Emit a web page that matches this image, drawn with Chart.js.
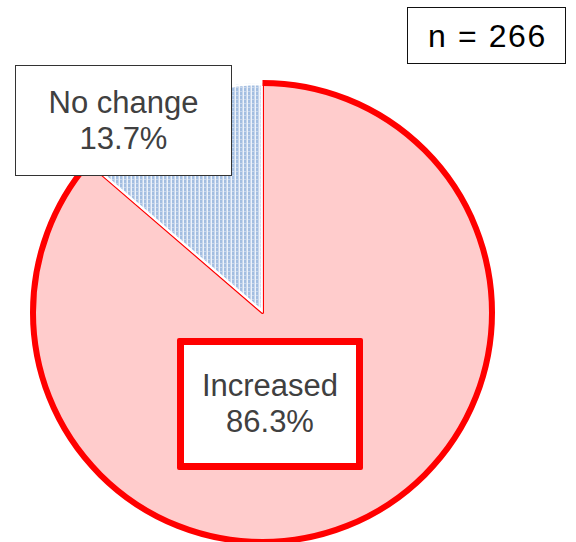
<!DOCTYPE html>
<html>
<head>
<meta charset="utf-8">
<script src="https://cdn.jsdelivr.net/npm/chart.js@4"></script>
<style>
    html, body {
        margin: 0;
        padding: 0;
        background: #fff;
        overflow: hidden;
    }
    #wrap {
        position: relative;
        width: 576px;
        height: 542px;
    }
    #chart {
        position: absolute;
        left: 0;
        top: 0;
    }
    .box {
        position: absolute;
        box-sizing: border-box;
        display: flex;
        align-items: center;
        justify-content: center;
        text-align: center;
        background: #fff;
        font-family: "Liberation Sans", Arial, sans-serif;
        font-size: 31px;
        line-height: 36px;
        color: #404040;
    }
    #nBox {
        left: 407px;
        top: 7px;
        width: 159px;
        height: 57px;
        border: 1.5px solid #111;
        color: #000;
        font-size: 32px;
        letter-spacing: 1.6px;
        padding-left: 2px;
    }
    #noChangeBox {
        left: 15px;
        top: 65px;
        width: 217px;
        height: 111px;
        border: 1.5px solid #333;
    }
    #increasedBox {
        left: 177px;
        top: 338px;
        width: 186px;
        height: 132px;
        border: 7px solid #ff0000;
        border-radius: 2px;
    }
</style>
</head>
<body>
<div id="wrap">
    <canvas id="chart" width="576" height="542"></canvas>
    <div class="box" id="nBox"></div>
    <div class="box" id="noChangeBox"></div>
    <div class="box" id="increasedBox"></div>
</div>
<script>
// Chart data
const categories = ['Increased', 'No change'];
const shares = [86.3, 13.7];
const sampleSize = 266;

const RED = '#ff0000';
const PINK = '#ffcccc';

// Dotted light blue fill for the "No change" slice
function makeDotPattern() {
    const tile = document.createElement('canvas');
    tile.width = 4;
    tile.height = 4;
    const t = tile.getContext('2d');
    t.fillStyle = '#eef3fa';
    t.fillRect(0, 0, 4, 4);
    t.fillStyle = '#a3bee1';
    t.fillRect(0, 0, 2, 3);
    t.fillStyle = '#c6d6ec';
    t.fillRect(2, 0, 1, 4);
    t.fillRect(0, 3, 2, 1);
    return t.createPattern(tile, 'repeat');
}

// Thick red rim around the outer edge of the "Increased" slice only
const outerRim = {
    id: 'outerRim',
    afterDatasetsDraw(chart) {
        const arc = chart.getDatasetMeta(0).data[0];
        if (!arc) return;
        const { x, y, outerRadius, startAngle, endAngle } = arc.getProps(
            ['x', 'y', 'outerRadius', 'startAngle', 'endAngle'], true);
        const ctx = chart.ctx;
        ctx.save();
        ctx.beginPath();
        ctx.arc(x, y, outerRadius, startAngle, endAngle);
        ctx.lineWidth = 6;
        ctx.lineCap = 'butt';
        ctx.strokeStyle = RED;
        ctx.stroke();
        ctx.restore();
    }
};

const ctx = document.getElementById('chart');
new Chart(ctx, {
    type: 'pie',
    data: {
        labels: categories,
        datasets: [{
            data: shares,
            backgroundColor: [PINK, makeDotPattern()],
            borderColor: [RED, '#ffffff'],
            borderWidth: [1.5, 2],
            borderAlign: 'inner',
            offset: 0,
            hoverOffset: 0,
            hoverBorderWidth: 0
        }]
    },
    options: {
        responsive: false,
        animation: false,
        events: [],
        layout: {
            padding: { left: 33, right: 84, top: 83, bottom: 0 }
        },
        plugins: {
            legend: { display: false },
            tooltip: { enabled: false }
        }
    },
    plugins: [outerRim]
});

// Annotation boxes built from the data
const fmt = v => v.toFixed(1) + '%';
document.getElementById('nBox').textContent = 'n = ' + sampleSize;
document.getElementById('noChangeBox').innerHTML = categories[1] + '<br>' + fmt(shares[1]);
document.getElementById('increasedBox').innerHTML = categories[0] + '<br>' + fmt(shares[0]);
</script>
</body>
</html>
